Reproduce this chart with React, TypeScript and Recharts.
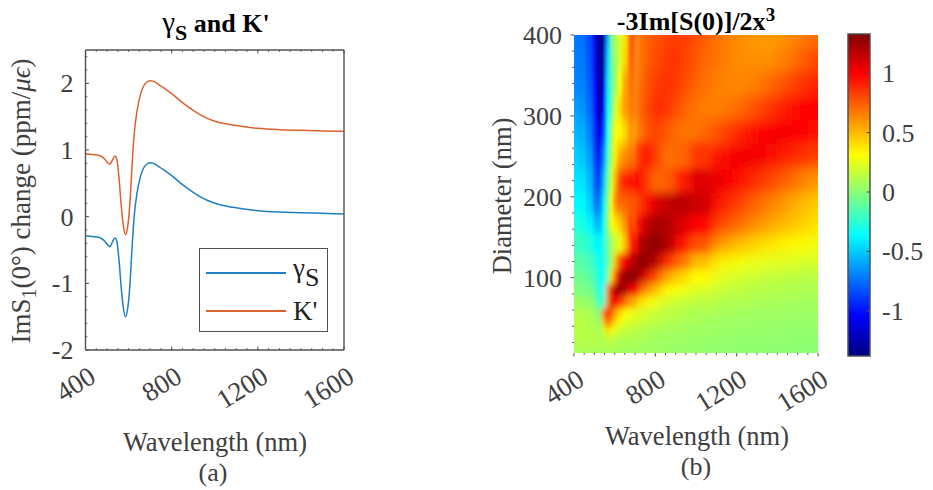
import {
  Bar,
  BarChart,
  Legend,
  Line,
  LineChart,
  Scatter,
  ScatterChart,
  XAxis,
  YAxis,
} from "recharts";

const FONT = '"Liberation Serif", "Times New Roman", serif';
const INK = "#404040";
const FRAME = "#505050";

// panel (a)
const lineWavelengths = [
  400, 440, 470, 490, 505, 514, 525, 537, 545, 555, 565, 575, 586, 597, 606, 615, 625, 640, 655, 670, 685, 703, 725,
  750, 800, 850, 900, 931, 1000, 1085, 1200, 1300, 1400, 1500, 1600,
];
const gammaS = [
  -0.29, -0.3, -0.32, -0.37, -0.43, -0.45, -0.38, -0.32, -0.36, -0.63, -1.03, -1.35, -1.5, -1.35, -1.03, -0.53, -0.03,
  0.37, 0.6, 0.73, 0.79, 0.81, 0.785, 0.73, 0.615, 0.48, 0.365, 0.3, 0.2, 0.14, 0.09, 0.07, 0.06, 0.05, 0.04,
];
const kPrime = [
  0.94, 0.93, 0.91, 0.86, 0.8, 0.79, 0.85, 0.91, 0.87, 0.6, 0.2, -0.12, -0.27, -0.12, 0.2, 0.7, 1.2, 1.6, 1.83, 1.96,
  2.02, 2.04, 2.015, 1.96, 1.845, 1.71, 1.595, 1.53, 1.43, 1.375, 1.325, 1.305, 1.295, 1.285, 1.28,
];
const lineData = lineWavelengths.map((wavelength, i) => ({ wavelength, gammaS: gammaS[i], kPrime: kPrime[i] }));

const xMajor = [400, 800, 1200, 1600];
const xTicks = [
  400, 450, 500, 550, 600, 650, 700, 750, 800, 850, 900, 950, 1000, 1050, 1100, 1150, 1200, 1250, 1300, 1350, 1400,
  1450, 1500, 1550, 1600,
];
const lineYMajor = [-2, -1, 0, 1, 2];
const lineYTicks = [
  -2, -1.8, -1.6, -1.4, -1.2, -1, -0.8, -0.6, -0.4, -0.2, 0, 0.2, 0.4, 0.6, 0.8, 1, 1.2, 1.4, 1.6, 1.8, 2, 2.2, 2.4,
];

// panel (b), values
const heatWavelengths = [
  400, 440, 480, 505, 525, 545, 565, 585, 605, 625, 650, 680, 715, 755, 800, 860, 930, 1010, 1100, 1200, 1300, 1400,
  1500, 1600,
];
const heatDiameters = [400, 370, 340, 310, 280, 250, 220, 190, 165, 140, 120, 100, 85, 70, 55, 45, 35, 25, 15, 7];
const heatRows = [
  [-.72,-.74,-.85,-1.1,-1.38,-1.3,-.6,-.05,.1,.2,.38,.75,.82,.72,.74,.85,.87,.78,.7,.62,.58,.58,.65,.72],
  [-.7,-.72,-.82,-1.08,-1.36,-1.26,-.5,-.1,.05,.22,.42,.72,.78,.72,.78,.9,.86,.75,.68,.62,.6,.62,.72,.82],
  [-.68,-.7,-.8,-1.05,-1.33,-1.18,-.45,-.12,.05,.3,.55,.68,.72,.78,.86,.92,.82,.72,.65,.62,.66,.75,.85,.92],
  [-.62,-.65,-.76,-1.0,-1.28,-1.05,-.4,-.1,.2,.42,.58,.66,.72,.85,.95,.9,.75,.66,.65,.7,.8,.9,.98,1.0],
  [-.55,-.58,-.7,-.95,-1.15,-.9,-.35,.05,.32,.32,.42,.58,.75,.88,.88,.75,.66,.68,.78,.9,.98,1.02,1.0,.96],
  [-.48,-.52,-.62,-.88,-1.0,-.7,-.22,.1,.38,.55,.62,.68,.85,.98,.82,.7,.72,.85,.95,1.02,1.02,.96,.88,.82],
  [-.42,-.44,-.55,-.8,-.88,-.55,-.1,.18,.55,.8,.95,1.0,.98,.85,.72,.75,.92,1.08,1.05,.98,.88,.78,.68,.58],
  [-.36,-.38,-.48,-.7,-.72,-.42,-.02,.35,.65,.72,.72,.75,.82,.95,1.08,1.15,1.18,1.12,.98,.85,.72,.62,.52,.44],
  [-.28,-.3,-.38,-.5,-.55,-.35,.0,.3,.35,.45,.6,.8,1.0,1.15,1.22,1.2,1.08,.98,.85,.72,.6,.52,.45,.38],
  [-.2,-.22,-.28,-.35,-.4,-.32,-.1,.1,.18,.28,.5,.95,1.15,1.25,1.3,1.2,.95,.78,.62,.5,.42,.36,.32,.28],
  [-.12,-.14,-.18,-.26,-.36,-.32,-.12,.08,.5,.85,1.0,1.18,1.3,1.3,1.18,.88,.7,.5,.36,.3,.26,.24,.22,.2],
  [-.06,-.08,-.12,-.2,-.34,-.36,-.08,.4,.85,1.15,1.3,1.28,1.25,1.05,.8,.55,.42,.32,.26,.2,.17,.15,.13,.12],
  [-.02,-.03,-.05,-.14,-.3,-.36,.6,1.1,1.22,1.28,1.2,1.03,.85,.62,.48,.33,.28,.22,.18,.15,.12,.11,.1,.09],
  [.06,.05,.03,-.05,-.2,-.28,.6,1.1,1.0,.88,.7,.55,.42,.34,.26,.2,.17,.14,.12,.1,.09,.08,.07,.07],
  [.12,.12,.1,.05,-.05,.7,1.0,.72,.55,.42,.32,.26,.22,.18,.16,.13,.11,.09,.08,.07,.06,.06,.05,.05],
  [.13,.13,.11,.08,.02,.45,.8,.55,.38,.3,.24,.2,.17,.15,.12,.1,.09,.07,.06,.05,.05,.04,.04,.04],
  [.13,.13,.12,.1,.07,.2,.42,.3,.22,.18,.15,.13,.11,.1,.09,.08,.07,.06,.05,.04,.04,.03,.03,.03],
  [.12,.12,.12,.11,.1,.12,.17,.15,.13,.12,.11,.1,.09,.08,.07,.06,.05,.05,.04,.03,.03,.03,.02,.02],
  [.1,.1,.1,.1,.09,.09,.1,.1,.09,.09,.08,.08,.07,.06,.06,.05,.04,.04,.03,.02,.02,.02,.01,.01],
  [.08,.08,.08,.08,.08,.08,.08,.08,.07,.07,.07,.06,.06,.05,.05,.04,.03,.03,.02,.01,.01,.01,0,0],
];
const heatYMajor = [100, 200, 300, 400];
const heatYTicks = [
  20, 40, 60, 80, 100, 120, 140, 160, 180, 200, 220, 240, 260, 280, 300, 320, 340, 360, 380, 400,
];

const colorMin = -1.38;
const colorMax = 1.33;
const colorTicks = [-1, -0.5, 0, 0.5, 1];
const colorBarData = [{ name: "scale", range: [colorMin, colorMax] }];
const jetStops: [number, number[]][] = [
  [0, [0, 0, 128]],
  [0.125, [0, 0, 255]],
  [0.375, [0, 255, 255]],
  [0.625, [255, 255, 0]],
  [0.875, [255, 0, 0]],
  [1, [128, 0, 0]],
];

function jet(value: number) {
  const t = Math.min(1, Math.max(0, (value - colorMin) / (colorMax - colorMin)));
  const i = jetStops.findIndex((s) => s[0] >= t);
  if (i <= 0) return `rgb(${jetStops[0][1].join(",")})`;
  const [t0, c0] = jetStops[i - 1];
  const [t1, c1] = jetStops[i];
  const f = (t - t0) / (t1 - t0);
  return `rgb(${c0.map((c, k) => Math.round(c + (c1[k] - c) * f)).join(",")})`;
}

// cell edges halfway to the neighbours; outer cells run past the plot so the blur does not fade at the border
const cellEdges = (centres: number[], overshoot: number) =>
  centres.map((c, i) => [
    i === 0 ? c - overshoot * Math.sign(centres[1] - c) : (centres[i - 1] + c) / 2,
    i === centres.length - 1 ? c + overshoot * Math.sign(c - centres[i - 1]) : (c + centres[i + 1]) / 2,
  ]);
const xEdges = cellEdges(heatWavelengths, 150);
const yEdges = cellEdges(heatDiameters, 60);

const heatCells = heatRows.flatMap((row, r) =>
  row.map((value, c) => ({
    wavelength: heatWavelengths[c],
    diameter: heatDiameters[r],
    value,
    x0: xEdges[c][0],
    x1: xEdges[c][1],
    y0: yEdges[r][0],
    y1: yEdges[r][1],
  })),
);
// narrow columns and the ridge get their own layers with a tighter blur
const ridgeCells = heatCells.filter((c) => c.wavelength >= 585 && c.wavelength <= 1010 && c.diameter >= 55 && c.diameter <= 250);
const upperNarrowCells = heatCells.filter((c) => c.wavelength <= 680 && c.diameter >= 120);
const lowerNarrowCells = heatCells.filter((c) => c.wavelength <= 680 && c.diameter <= 140);

const HEAT_W = 244;
const HEAT_H = 318;
const Y_MIN = 7;

function HeatCell({ cx, cy, payload }: any) {
  const sx = HEAT_W / 1200;
  const sy = HEAT_H / (400 - Y_MIN);
  const left = cx + (payload.x0 - payload.wavelength) * sx;
  const right = cx + (payload.x1 - payload.wavelength) * sx;
  const top = cy - (payload.y0 - payload.diameter) * sy;
  const bottom = cy - (payload.y1 - payload.diameter) * sy;
  return <rect x={left} y={top} width={right - left + 0.6} height={bottom - top + 0.6} fill={jet(payload.value)} />;
}

const tickText = { fontFamily: FONT, fontSize: 26, fill: INK };

// tick mark + optional label; dir says which way the mark points
function xTick(dir: number, labelled: boolean) {
  return ({ x, y, payload }: any) => {
    const major = xMajor.includes(payload.value);
    return (
      <g>
        <line x1={x} x2={x} y1={y} y2={y + dir * (major ? 3.5 : 1.8)} stroke={FRAME} strokeWidth={1} />
        {labelled && major && (
          <text
            {...tickText}
            fontSize={27}
            x={x + 12}
            y={y + 31}
            textAnchor="end"
            transform={`rotate(-32 ${x + 12} ${y + 31})`}
          >
            {payload.value}
          </text>
        )}
      </g>
    );
  };
}

function yTick(dir: number, major: number[], labelled: boolean) {
  return ({ x, y, payload }: any) => {
    const isMajor = major.includes(payload.value);
    return (
      <g>
        <line x1={x} x2={x + dir * (isMajor ? 3.5 : 1.8)} y1={y} y2={y} stroke={FRAME} strokeWidth={1} />
        {labelled && isMajor && (
          <text {...tickText} x={x - 12} y={y + 9} textAnchor="end">
            {payload.value}
          </text>
        )}
      </g>
    );
  };
}

function colorTick({ x, y, payload }: any) {
  return (
    <g>
      <line x1={x} x2={x - 3.5} y1={y} y2={y} stroke={FRAME} strokeWidth={1} />
      <text {...tickText} x={x + 12} y={y + 9} textAnchor="start">
        {payload.value}
      </text>
    </g>
  );
}

function LegendBox({ payload }: any) {
  return (
    <div
      style={{
        boxSizing: "border-box",
        width: 129,
        height: 84,
        border: `1.5px solid ${FRAME}`,
        background: "#fff",
        fontFamily: FONT,
        fontSize: 27,
        color: "#222",
        paddingTop: 5,
      }}
    >
      {(payload ?? []).map((entry: any) => (
        <div key={entry.value} style={{ display: "flex", alignItems: "center", height: 38, marginLeft: 6 }}>
          <div style={{ width: 80, height: 1.6, background: entry.color, marginRight: 7 }} />
          {entry.value === "gammaS" ? (
            <span>
              γ<sub style={{ fontSize: 26, verticalAlign: -9 }}>S</sub>
            </span>
          ) : (
            <span>{entry.value}</span>
          )}
        </div>
      ))}
    </div>
  );
}

const axisBase = { height: 1, tickSize: 0, tickMargin: 0, tickLine: false, interval: 0 } as const;
const yAxisBase = { width: 1, tickSize: 0, tickMargin: 0, tickLine: false, interval: 0 } as const;

export default function App() {
  return (
    <div style={{ position: "absolute", left: 0, top: 0, width: 933, height: 490, background: "#fff", overflow: "hidden" }}>
      <style>
        {".heat-base{filter:url(#heatBase)}.heat-ridge{filter:url(#heatRidge)}.heat-upper{filter:url(#heatUpper)}.heat-lower{filter:url(#heatLower)}"}
      </style>

      {/* (a) */}
      <div style={{ position: "absolute", left: 0, top: 0 }}>
        <LineChart width={470} height={490} data={lineData} margin={{ top: 49, left: 84.5, right: 125, bottom: 139 }}>
          <XAxis
            {...axisBase}
            xAxisId="b"
            dataKey="wavelength"
            type="number"
            domain={[400, 1600]}
            ticks={xTicks}
            stroke={FRAME}
            strokeWidth={1.4}
            tick={xTick(-1, true)}
          />
          <XAxis
            {...axisBase}
            xAxisId="t"
            orientation="top"
            dataKey="wavelength"
            type="number"
            domain={[400, 1600]}
            ticks={xTicks}
            stroke={FRAME}
            strokeWidth={1.4}
            tick={xTick(1, false)}
          />
          <YAxis
            {...yAxisBase}
            yAxisId="l"
            type="number"
            domain={[-2, 2.5]}
            ticks={lineYTicks}
            stroke={FRAME}
            strokeWidth={1.4}
            tick={yTick(1, lineYMajor, true)}
          />
          <YAxis
            {...yAxisBase}
            yAxisId="r"
            orientation="right"
            type="number"
            domain={[-2, 2.5]}
            ticks={lineYTicks}
            stroke={FRAME}
            strokeWidth={1.4}
            tick={yTick(-1, lineYMajor, false)}
          />
          <Line
            xAxisId="b"
            yAxisId="l"
            type="monotone"
            dataKey="gammaS"
            name="gammaS"
            stroke="#1F7FC4"
            strokeWidth={1.5}
            dot={false}
            isAnimationActive={false}
          />
          <Line
            xAxisId="b"
            yAxisId="l"
            type="monotone"
            dataKey="kPrime"
            name="K'"
            stroke="#DD6030"
            strokeWidth={1.5}
            dot={false}
            isAnimationActive={false}
          />
          <Legend
            layout="vertical"
            align="center"
            verticalAlign="middle"
            itemSorter="dataKey"
            wrapperStyle={{ left: 199, top: 248, width: 129, height: 84 }}
            content={LegendBox}
          />
          <text x={216} y={32} textAnchor="middle" fontFamily={FONT} fontSize={26} fontWeight="bold" fill="#000">
            <tspan fontWeight="normal" fontSize={29}>γ</tspan>
            <tspan dy={8} fontSize={22}>
              S
            </tspan>
            <tspan dy={-8}> and K'</tspan>
          </text>
          <text x={30} y={201} textAnchor="middle" transform="rotate(-90 30 201)" fontFamily={FONT} fontSize={27} fill={INK}>
            ImS
            <tspan dy={6} fontSize={20}>
              1
            </tspan>
            <tspan dy={-6}>(0°) change (ppm/</tspan>
            <tspan fontStyle="italic">μϵ</tspan>)
          </text>
          <text x={215} y={451} textAnchor="middle" fontFamily={FONT} fontSize={26.5} fill={INK}>
            Wavelength (nm)
          </text>
          <text x={213} y={481} textAnchor="middle" fontFamily={FONT} fontSize={26} fill={INK}>
            (a)
          </text>
        </LineChart>
      </div>

      {/* (b) */}
      <div style={{ position: "absolute", left: 470, top: 0 }}>
        <ScatterChart width={370} height={490} margin={{ top: 35, left: 103, right: 22, bottom: 136 }}>
          <defs>
            <filter id="heatBase" x="-30%" y="-30%" width="160%" height="160%">
              <feGaussianBlur stdDeviation="11 7" />
            </filter>
            <filter id="heatRidge" x="-30%" y="-30%" width="160%" height="160%">
              <feGaussianBlur stdDeviation="5 4" />
            </filter>
            <filter id="heatUpper" x="-30%" y="-30%" width="160%" height="160%">
              <feGaussianBlur stdDeviation="1.6 7" />
            </filter>
            <filter id="heatLower" x="-30%" y="-30%" width="160%" height="160%">
              <feGaussianBlur stdDeviation="2.4 3.5" />
            </filter>
          </defs>
          <XAxis
            {...axisBase}
            dataKey="wavelength"
            type="number"
            domain={[400, 1600]}
            allowDataOverflow
            ticks={xTicks}
            axisLine={false}
            tick={xTick(1, true)}
          />
          <YAxis
            {...yAxisBase}
            dataKey="diameter"
            type="number"
            domain={[Y_MIN, 400]}
            allowDataOverflow
            ticks={heatYTicks}
            axisLine={false}
            tick={yTick(-1, heatYMajor, true)}
          />
          <Scatter data={heatCells} className="heat-base" shape={HeatCell} isAnimationActive={false} />
          <Scatter data={ridgeCells} className="heat-ridge" shape={HeatCell} isAnimationActive={false} />
          <Scatter data={upperNarrowCells} className="heat-upper" shape={HeatCell} isAnimationActive={false} />
          <Scatter data={lowerNarrowCells} className="heat-lower" shape={HeatCell} isAnimationActive={false} />
          <text x={226} y={30} textAnchor="middle" fontFamily={FONT} fontSize={26} fontWeight="bold" fill="#000">
            -3Im[S(0)]/2x
            <tspan dy={-9} fontSize={19}>
              3
            </tspan>
          </text>
          <text x={41} y={196} textAnchor="middle" transform="rotate(-90 41 196)" fontFamily={FONT} fontSize={26.5} fill={INK}>
            Diameter (nm)
          </text>
          <text x={227} y={445} textAnchor="middle" fontFamily={FONT} fontSize={26.5} fill={INK}>
            Wavelength (nm)
          </text>
          <text x={226} y={475} textAnchor="middle" fontFamily={FONT} fontSize={26} fill={INK}>
            (b)
          </text>
        </ScatterChart>
      </div>

      {/* colour bar */}
      <div style={{ position: "absolute", left: 820, top: 0 }}>
        <BarChart
          width={113}
          height={490}
          data={colorBarData}
          barCategoryGap={0}
          margin={{ top: 34, left: 28, right: 62, bottom: 134 }}
        >
          <defs>
            <linearGradient id="jetBar" x1="0" y1="1" x2="0" y2="0">
              {jetStops.map(([t, c]) => (
                <stop key={t} offset={t} stopColor={`rgb(${c.join(",")})`} />
              ))}
            </linearGradient>
          </defs>
          <XAxis dataKey="name" hide />
          <YAxis
            {...yAxisBase}
            orientation="right"
            type="number"
            domain={[colorMin, colorMax]}
            ticks={colorTicks}
            axisLine={false}
            tick={colorTick}
          />
          <Bar dataKey="range" fill="url(#jetBar)" stroke={FRAME} strokeWidth={1.5} isAnimationActive={false} />
        </BarChart>
      </div>
    </div>
  );
}
